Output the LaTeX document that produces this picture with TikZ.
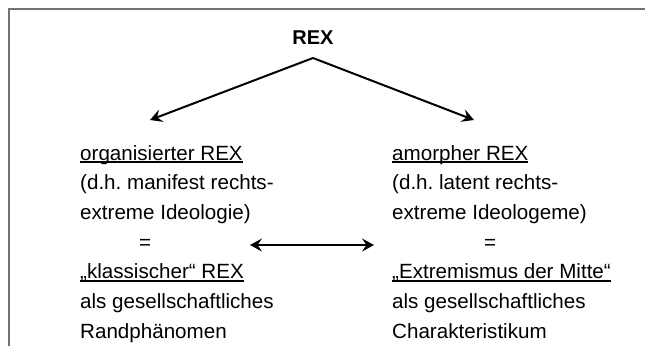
\documentclass[tikz,border=0pt]{standalone}
\usepackage{fontspec}
\setmainfont{Liberation Sans}
\usetikzlibrary{arrows.meta}
\frenchspacing
\newsavebox\ulbox
\newcommand\ulin[1]{\sbox\ulbox{#1}\rlap{\rule[-2.6pt]{\wd\ulbox}{1.4pt}}\usebox\ulbox}
\tikzset
    { block/.style =
        { anchor = north west, align = left, inner sep = 0pt
        , font = \fontsize{20.6pt}{29.7pt}\selectfont
        }
    , split arrow/.style =
        { line width = 2pt
        , -{Stealth[length = 12pt, width = 13pt, inset = 4.5pt]}
        }
    , swap arrow/.style =
        { line width = 2pt
        , {Stealth[length = 12pt, width = 13pt, inset = 4.5pt]}-{Stealth[length = 12pt, width = 13pt, inset = 4.5pt]}
        }
    , frame/.style = {line width = 2pt, black!55}
    }

\begin{document}
\begin{tikzpicture}[x=1pt, y=-1pt]

    \useasboundingbox (0, 0) rectangle (645, 346);
    \draw[frame] (9, 346) -- (9, 9) -- (645, 9);

    \node[font = \fontsize{20pt}{24pt}\selectfont\bfseries, anchor = base, inner sep = 0pt] (rex) at (313, 44) {REX};
    \coordinate (apex) at (313, 58);
    \coordinate (organised end) at (150, 120);
    \coordinate (amorphous end) at (474, 120);
    \draw[split arrow] (apex) -- (organised end);
    \draw[split arrow] (apex) -- (amorphous end);

    \node[block] (organised) at (80, 145)
        {\ulin{organisierter REX}\\
         (d.h. manifest rechts-\\
         extreme Ideologie)\\
         \hspace*{59pt}=\\
         \ulin{„klassischer“ REX}\\
         als gesellschaftliches\\
         Randphänomen};
    \node[block] (amorphous) at (392, 145)
        {\ulin{amorpher REX}\\
         (d.h. latent rechts-\\
         extreme Ideologeme)\\
         \hspace*{92pt}=\\
         \ulin{„Extremismus der Mitte“}\\
         als gesellschaftliches\\
         Charakteristikum};

    \coordinate (swap left) at (250, 245);
    \coordinate (swap right) at (374, 245);
    \draw[swap arrow] (swap left) -- (swap right);

\end{tikzpicture}
\end{document}
